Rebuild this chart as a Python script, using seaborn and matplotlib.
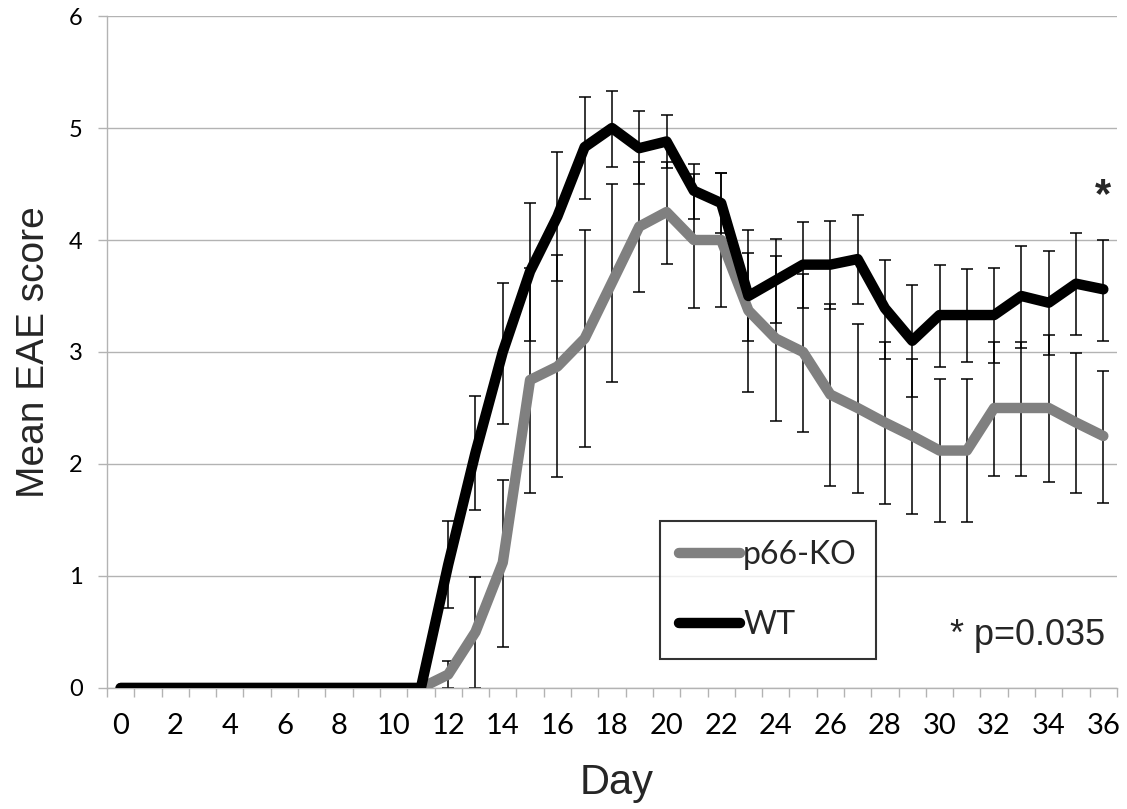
import numpy as np
import pandas as pd
import matplotlib
matplotlib.use("Agg")
import matplotlib.pyplot as plt
import seaborn as sns

# ---------------- data ----------------
days = list(range(0, 37))
wt = [0, 0, 0, 0, 0, 0, 0, 0, 0, 0, 0, 0,
      1.1, 2.1, 3.0, 3.72, 4.21, 4.83, 5.0, 4.82, 4.88, 4.44, 4.33,
      3.5, 3.64, 3.78, 3.78, 3.83, 3.39, 3.1, 3.33, 3.33, 3.33, 3.5, 3.44, 3.61, 3.56]
ko = [0, 0, 0, 0, 0, 0, 0, 0, 0, 0, 0, 0,
      0.12, 0.5, 1.12, 2.75, 2.87, 3.12, 3.62, 4.12, 4.25, 4.0, 4.0,
      3.37, 3.12, 3.0, 2.62, 2.5, 2.37, 2.25, 2.12, 2.12, 2.5, 2.5, 2.5, 2.37, 2.25]
nan = float("nan")
wt_lo = [nan] * 12 + [0.71, 1.59, 2.36, 3.10, 3.63, 4.37, 4.65, 4.50, 4.64, 4.19, 4.06,
                      3.10, 3.26, 3.39, 3.38, 3.43, 2.94, 2.60, 2.87, 2.91, 2.90, 3.04, 2.97, 3.15, 3.10]
wt_hi = [nan] * 12 + [1.49, 2.61, 3.62, 4.33, 4.79, 5.28, 5.33, 5.15, 5.12, 4.68, 4.60,
                      4.09, 4.01, 4.16, 4.17, 4.22, 3.82, 3.60, 3.78, 3.74, 3.75, 3.95, 3.90, 4.06, 4.00]
ko_lo = [nan] * 12 + [0.0, 0.0, 0.37, 1.74, 1.88, 2.15, 2.73, 3.54, 3.79, 3.39, 3.40,
                      2.64, 2.38, 2.29, 1.80, 1.74, 1.64, 1.55, 1.48, 1.48, 1.89, 1.89, 1.84, 1.74, 1.65]
ko_hi = [nan] * 12 + [0.24, 0.99, 1.86, 3.75, 3.87, 4.09, 4.50, 4.70, 4.70, 4.59, 4.60,
                      3.88, 3.86, 3.70, 3.43, 3.25, 3.09, 2.94, 2.76, 2.76, 3.09, 3.09, 3.15, 2.99, 2.83]
groups = ["p66-KO", "WT"]
colors = {"p66-KO": "#808080", "WT": "#000000"}
xtick_labels = [str(d) for d in range(0, 37, 2)]
yticks = [0, 1, 2, 3, 4, 5, 6]

df = pd.DataFrame({
    "Day": days * 2,
    "score": ko + wt,
    "group": ["p66-KO"] * len(days) + ["WT"] * len(days),
})

# ---------------- style ----------------
sns.set_theme(style="white")
plt.rcParams["font.family"] = ["Lato", "DejaVu Sans"]

fig = plt.figure(figsize=(11.27, 8.09), dpi=100)
ax = fig.add_axes([0.0949, 0.1496, 0.8962, 0.8306])

GRID = "#b3b3b3"

# error bars (under lines)
for vals, lo, hi in [(ko, ko_lo, ko_hi), (wt, wt_lo, wt_hi)]:
    v = np.array(vals, dtype=float)
    l = np.array(lo, dtype=float)
    h = np.array(hi, dtype=float)
    m = ~np.isnan(l)
    ax.errorbar(np.array(days)[m], v[m], yerr=[v[m] - l[m], h[m] - v[m]],
                fmt="none", ecolor="black", elinewidth=1.1, capsize=4.3,
                capthick=1.1, zorder=1.5)

sns.lineplot(data=df, x="Day", y="score", hue="group", hue_order=groups,
             palette=colors, linewidth=7.5, errorbar=None, ax=ax, zorder=3)
for ln in ax.lines:
    ln.set_solid_capstyle("round")
    ln.set_solid_joinstyle("round")

ax.set_xlim(-0.5, 36.5)
ax.set_ylim(0, 6)
ax.set_xticks(range(0, 37, 2))
ax.set_xticklabels(xtick_labels)
ax.set_xticks(np.arange(-0.5, 37, 1), minor=True)
ax.set_yticks(yticks)
ax.set_yticklabels([str(t) for t in yticks])

ax.yaxis.grid(True, color=GRID, linewidth=1.0)
ax.xaxis.grid(False)
ax.set_axisbelow(True)
for s in ["top", "right"]:
    ax.spines[s].set_visible(False)
for s in ["left", "bottom"]:
    ax.spines[s].set_color(GRID)
    ax.spines[s].set_linewidth(1.0)

ax.tick_params(axis="x", which="major", length=0, pad=18, labelsize=21,
               labelcolor="black")
ax.tick_params(axis="x", which="minor", length=6.5, width=1, color=GRID,
               direction="out", bottom=True)
ax.tick_params(axis="y", which="major", length=6.5, width=1, color=GRID,
               direction="out", left=True, pad=11, labelsize=17, labelcolor="black")

ax.set_xlabel("Day", fontsize=30, family=["Liberation Sans", "DejaVu Sans"])
ax.set_ylabel("Mean EAE score", fontsize=28, family=["Liberation Sans", "DejaVu Sans"])
ax.xaxis.set_label_coords(0.505, -0.112)
ax.yaxis.set_label_coords(-0.054, 0.5)

# legend
handles, labels = ax.get_legend_handles_labels()
hl = dict(zip(labels, handles))
leg = ax.legend([hl[g] for g in groups], groups, loc="upper left",
                bbox_to_anchor=(0.5856, 0.356), bbox_transform=fig.transFigure,
                frameon=True, fancybox=False, edgecolor="black",
                prop={"family": "Lato", "size": 23},
                handlelength=1.9, handletextpad=0.1, labelspacing=1.25,
                borderpad=0.6, borderaxespad=0)
leg.get_frame().set_linewidth(1.5)
for ln in leg.get_lines():
    ln.set_linewidth(7.5)
    ln.set_solid_capstyle("round")

# annotations
ax.text(0.986, 0.716, "*", transform=ax.transAxes, ha="center", va="baseline",
        fontsize=30, fontweight="bold", family=["Liberation Sans", "DejaVu Sans"])
ax.text(0.988, 0.064, "* p=0.035", transform=ax.transAxes, ha="right", va="baseline",
        fontsize=26, family=["Liberation Sans", "DejaVu Sans"])

fig.savefig("out.png", dpi=100)
